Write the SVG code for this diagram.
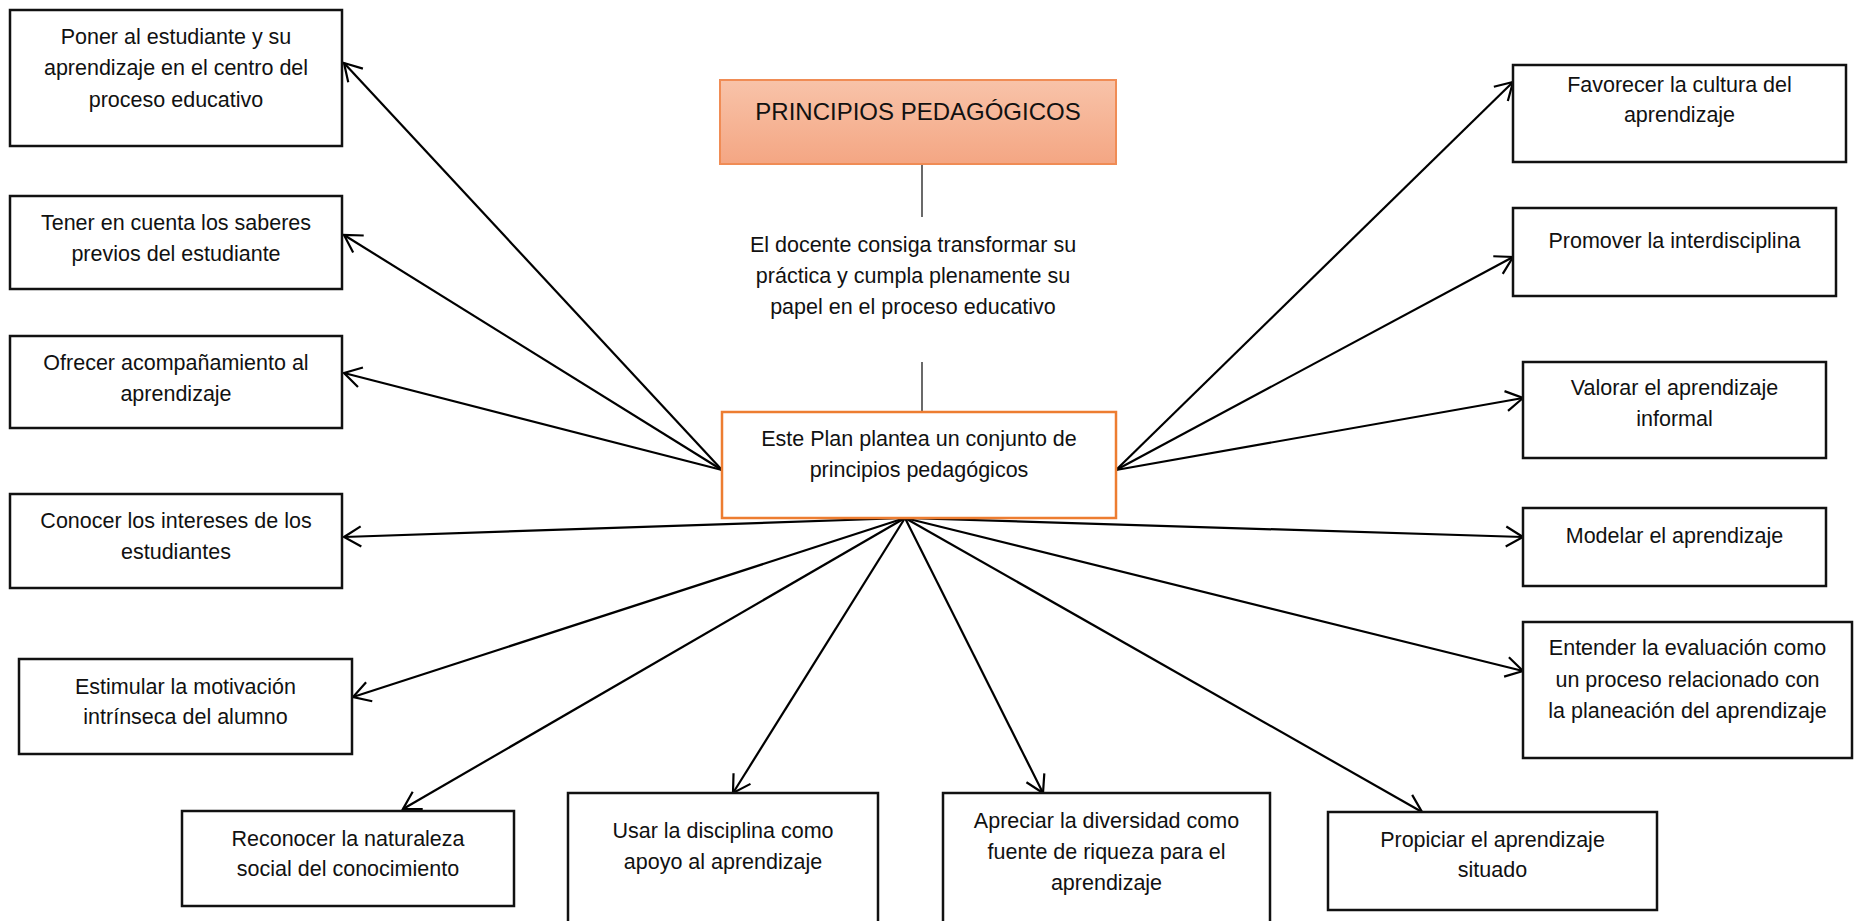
<svg xmlns="http://www.w3.org/2000/svg" width="1856" height="921" viewBox="0 0 1856 921">
<style>
.box{fill:#fff;stroke:#111;stroke-width:2.5}
.t{font-family:"Liberation Sans",Arial,sans-serif;font-size:21.5px;fill:#111;text-anchor:middle}
.title{font-family:"Liberation Sans",Arial,sans-serif;font-size:24px;fill:#111;text-anchor:middle}
.arr{stroke:#000;stroke-width:2.2;fill:none;marker-end:url(#ah)}
.stem{stroke:#444;stroke-width:1.6}
</style>
<defs>
<linearGradient id="g" x1="0" y1="0" x2="0" y2="1">
<stop offset="0" stop-color="#F8C3A9"/>
<stop offset="1" stop-color="#F4A683"/>
</linearGradient>
<marker id="ah" markerUnits="userSpaceOnUse" viewBox="-20 -12 22 24" refX="0" refY="0" markerWidth="22" markerHeight="24" orient="auto" overflow="visible">
<path d="M-17,-10 L0,0 L-17,10" fill="none" stroke="#000" stroke-width="2.2"/>
</marker>
</defs>
<rect width="1856" height="921" fill="#fff"/>

<g id="connectors">
<line class="stem" x1="922" y1="164" x2="922" y2="217"/>
<line class="stem" x1="922" y1="362" x2="922" y2="411"/>
<line class="arr" x1="722" y1="470" x2="344" y2="63"/>
<line class="arr" x1="722" y1="470" x2="344" y2="235"/>
<line class="arr" x1="722" y1="470" x2="344" y2="373"/>
<line class="arr" x1="905" y1="518" x2="344" y2="537"/>
<line class="arr" x1="905" y1="518" x2="353" y2="697"/>
<line class="arr" x1="905" y1="518" x2="403" y2="809"/>
<line class="arr" x1="905" y1="518" x2="733" y2="793"/>
<line class="arr" x1="905" y1="518" x2="1043" y2="793"/>
<line class="arr" x1="905" y1="518" x2="1422" y2="812"/>
<line class="arr" x1="905" y1="518" x2="1523" y2="671"/>
<line class="arr" x1="905" y1="518" x2="1523" y2="537"/>
<line class="arr" x1="1116" y1="470" x2="1523" y2="398"/>
<line class="arr" x1="1116" y1="470" x2="1513" y2="257"/>
<line class="arr" x1="1116" y1="470" x2="1513" y2="82"/>
</g>

<g id="title">
<rect x="720" y="80" width="396" height="84" fill="url(#g)" stroke="#F08C55" stroke-width="2"/>
<text class="title" x="918" y="120">PRINCIPIOS PEDAGÓGICOS</text>
</g>

<g id="docente">
<text class="t" x="913" y="252">El docente consiga transformar su</text>
<text class="t" x="913" y="283">práctica y cumpla plenamente su</text>
<text class="t" x="913" y="314">papel en el proceso educativo</text>
</g>

<g id="plan">
<rect x="722" y="412" width="394" height="106" fill="#fff" stroke="#ED7D31" stroke-width="2.5"/>
<text class="t" x="919" y="446">Este Plan plantea un conjunto de</text>
<text class="t" x="919" y="477">principios pedagógicos</text>
</g>

<g id="poner">
<rect class="box" x="10" y="10" width="332" height="136"/>
<text class="t" x="176" y="44">Poner al estudiante y su</text>
<text class="t" x="176" y="75">aprendizaje en el centro del</text>
<text class="t" x="176" y="107">proceso educativo</text>
</g>

<g id="tener">
<rect class="box" x="10" y="196" width="332" height="93"/>
<text class="t" x="176" y="230">Tener en cuenta los saberes</text>
<text class="t" x="176" y="261">previos del estudiante</text>
</g>

<g id="ofrecer">
<rect class="box" x="10" y="336" width="332" height="92"/>
<text class="t" x="176" y="370">Ofrecer acompañamiento al</text>
<text class="t" x="176" y="401">aprendizaje</text>
</g>

<g id="conocer">
<rect class="box" x="10" y="494" width="332" height="94"/>
<text class="t" x="176" y="528">Conocer los intereses de los</text>
<text class="t" x="176" y="559">estudiantes</text>
</g>

<g id="estimular">
<rect class="box" x="19" y="659" width="333" height="95"/>
<text class="t" x="185.5" y="694">Estimular la motivación</text>
<text class="t" x="185.5" y="724">intrínseca del alumno</text>
</g>

<g id="reconocer">
<rect class="box" x="182" y="811" width="332" height="95"/>
<text class="t" x="348" y="846">Reconocer la naturaleza</text>
<text class="t" x="348" y="876">social del conocimiento</text>
</g>

<g id="usar">
<rect class="box" x="568" y="793" width="310" height="135"/>
<text class="t" x="723" y="838">Usar la disciplina como</text>
<text class="t" x="723" y="869">apoyo al aprendizaje</text>
</g>

<g id="apreciar">
<rect class="box" x="943" y="793" width="327" height="135"/>
<text class="t" x="1106.5" y="828">Apreciar la diversidad como</text>
<text class="t" x="1106.5" y="859">fuente de riqueza para el</text>
<text class="t" x="1106.5" y="890">aprendizaje</text>
</g>

<g id="propiciar">
<rect class="box" x="1328" y="812" width="329" height="98"/>
<text class="t" x="1492.5" y="847">Propiciar el aprendizaje</text>
<text class="t" x="1492.5" y="877">situado</text>
</g>

<g id="entender">
<rect class="box" x="1523" y="622" width="329" height="136"/>
<text class="t" x="1687.5" y="655">Entender la evaluación como</text>
<text class="t" x="1687.5" y="687">un proceso relacionado con</text>
<text class="t" x="1687.5" y="718">la planeación del aprendizaje</text>
</g>

<g id="modelar">
<rect class="box" x="1523" y="508" width="303" height="78"/>
<text class="t" x="1674.5" y="543">Modelar el aprendizaje</text>
</g>

<g id="valorar">
<rect class="box" x="1523" y="362" width="303" height="96"/>
<text class="t" x="1674.5" y="395">Valorar el aprendizaje</text>
<text class="t" x="1674.5" y="426">informal</text>
</g>

<g id="promover">
<rect class="box" x="1513" y="208" width="323" height="88"/>
<text class="t" x="1674.5" y="248">Promover la interdisciplina</text>
</g>

<g id="favorecer">
<rect class="box" x="1513" y="65" width="333" height="97"/>
<text class="t" x="1679.5" y="92">Favorecer la cultura del</text>
<text class="t" x="1679.5" y="122">aprendizaje</text>
</g>
</svg>
